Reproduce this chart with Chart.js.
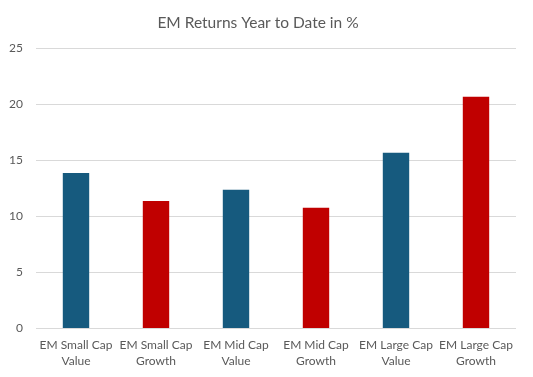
<!DOCTYPE html>
<html>
<head>
<meta charset="utf-8">
<script src="https://cdn.jsdelivr.net/npm/chart.js@4/dist/chart.umd.min.js"></script>
<style>
  html, body { margin: 0; padding: 0; background: #fff; }
  #wrap { width: 533px; height: 377px; }
</style>
</head>
<body>
<div id="wrap"><canvas id="myChart"></canvas></div>
<script>
var categories = [
  ["EM Small Cap", "Value"],
  ["EM Small Cap", "Growth"],
  ["EM Mid Cap", "Value"],
  ["EM Mid Cap", "Growth"],
  ["EM Large Cap", "Value"],
  ["EM Large Cap", "Growth"]
];
var returnsYtd = [13.9, 11.4, 12.4, 10.8, 15.7, 20.7];
var barColors = ["#165a7e", "#c00000", "#165a7e", "#c00000", "#165a7e", "#c00000"];
var yTicks = [0, 5, 10, 15, 20, 25];

var ctx = document.getElementById("myChart").getContext("2d");
var myChart = new Chart(ctx, {
  type: "bar",
  data: {
    labels: categories,
    datasets: [
      {
        label: "EM Returns Year to Date in %",
        data: returnsYtd,
        backgroundColor: barColors,
        borderWidth: 0,
        categoryPercentage: 1,
        barPercentage: 0.33,
      },
    ],
  },
  options: {
    responsive: true,
    maintainAspectRatio: false,
    animation: false,
    layout: {
      padding: { left: 0, right: 17, top: 4, bottom: 8 },
    },
    plugins: {
      legend: { display: false },
      tooltip: { enabled: false },
      title: {
        display: true,
        text: "EM Returns Year to Date in %",
        color: "#595959",
        font: { family: "Lato", size: 15.5, weight: "normal" },
        padding: { top: 10, bottom: 16 },
      },
    },
    scales: {
      x: {
        grid: { display: false },
        border: { display: false },
        ticks: {
          color: "#595959",
          font: { family: "Lato", size: 12, lineHeight: 1.35 },
          maxRotation: 0,
          autoSkip: false,
          padding: 0,
        },
      },
      y: {
        min: 0,
        max: 25,
        afterBuildTicks: function (axis) {
          axis.ticks = yTicks.map(function (v) { return { value: v }; });
        },
        afterFit: function (axis) {
          axis.width = 36;
        },
        grid: { color: "#d9d9d9", lineWidth: 1, drawTicks: false },
        border: { display: false },
        ticks: {
          color: "#595959",
          font: { family: "Lato", size: 12 },
          padding: 13,
        },
      },
    },
  },
});
</script>
</body>
</html>
